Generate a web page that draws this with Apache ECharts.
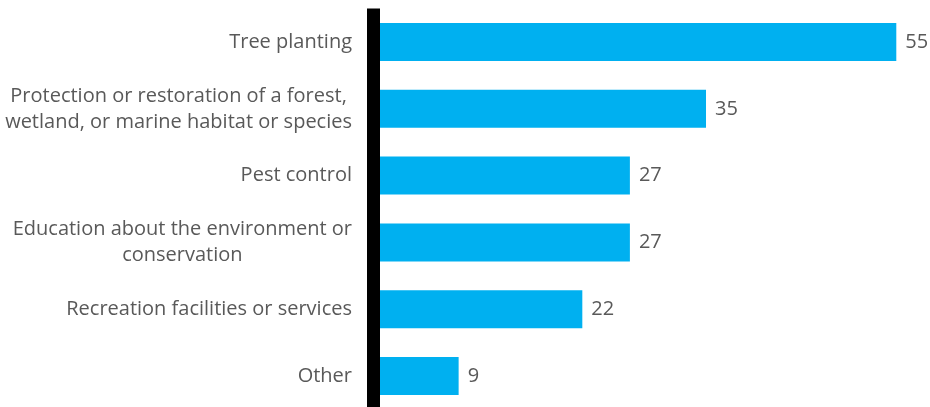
<!DOCTYPE html>
<html>
<head>
<meta charset="utf-8">
<script src="https://cdn.jsdelivr.net/npm/echarts@6/dist/echarts.min.js"></script>
<style>
  html, body { margin: 0; padding: 0; background: #ffffff; }
  #chart { width: 930px; height: 407px; }
</style>
</head>
<body>
<div id="chart"></div>
<script>
// Activities and their share (%)
const categories = [
  'Tree planting',
  'Protection or restoration of a forest,\nwetland, or marine habitat or species',
  'Pest control',
  'Education about the environment or\nconservation',
  'Recreation facilities or services',
  'Other'
];
const values = [55, 35, 27, 27, 22, 9];

const FONT = '"Open Sans", "Noto Sans", sans-serif';
const TEXT_COLOR = '#595959';

const chart = echarts.init(document.getElementById('chart'), null, { renderer: 'canvas' });

chart.setOption({
  animation: false,
  backgroundColor: '#ffffff',
  grid: {
    left: 373,
    right: 33.7,
    top: 8.6,
    bottom: -2.4,
    containLabel: false,
    outerBoundsMode: 'none'
  },
  xAxis: {
    type: 'value',
    min: 0,
    max: 55,
    show: false,
    splitLine: { show: false }
  },
  yAxis: {
    type: 'category',
    data: categories,
    inverse: true,
    z: 5,
    axisLine: { show: true, lineStyle: { color: '#000000', width: 13, cap: 'butt' } },
    axisTick: { show: false },
    splitLine: { show: false },
    axisLabel: {
      margin: 21,
      align: 'right',
      color: TEXT_COLOR,
      fontFamily: FONT,
      fontSize: 20,
      lineHeight: 26,
      // each line of a wrapped label is centred within the label block
      formatter: function (v) {
        return v.split('\n').map(function (l) { return '{c|' + l + '}'; }).join('\n');
      },
      rich: {
        c: {
          align: 'center',
          color: TEXT_COLOR,
          fontFamily: FONT,
          fontSize: 20,
          lineHeight: 26
        }
      }
    }
  },
  series: [{
    type: 'bar',
    data: values,
    barWidth: 38,
    itemStyle: { color: '#00B0F0' },
    label: {
      show: true,
      position: 'right',
      distance: 9,
      color: TEXT_COLOR,
      fontFamily: FONT,
      fontSize: 20
    }
  }]
});
</script>
</body>
</html>
